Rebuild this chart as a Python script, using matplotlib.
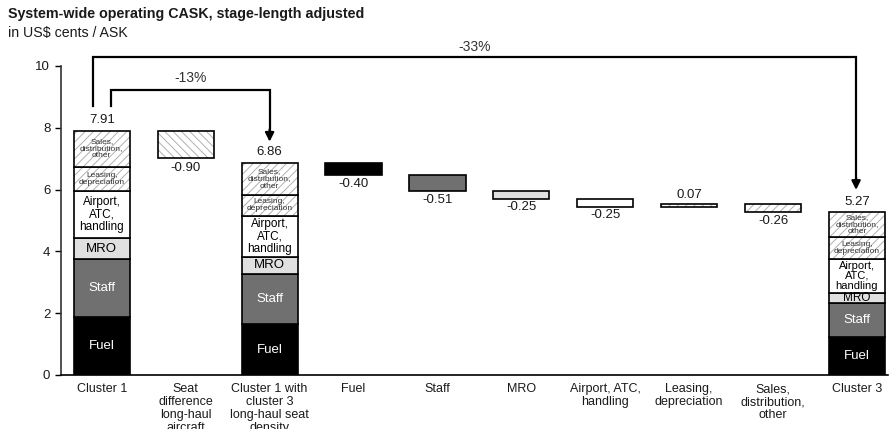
# Waterfall of system-wide operating CASK, cluster 1 vs cluster 3
import numpy as np
import matplotlib
matplotlib.use('Agg')
import matplotlib.pyplot as plt

plt.rcParams['font.family'] = ['Liberation Sans', 'DejaVu Sans']
plt.rcParams['hatch.linewidth'] = 0.7

# data (US$ cents / ASK)
categories = ['Cluster 1', 'Seat\ndifference\nlong-haul\naircraft',
              'Cluster 1 with\ncluster 3\nlong-haul seat\ndensity',
              'Fuel', 'Staff', 'MRO', 'Airport, ATC,\nhandling',
              'Leasing,\ndepreciation', 'Sales,\ndistribution,\nother',
              'Cluster 3']
segments     = ['Fuel', 'Staff', 'MRO', 'Airport,\nATC,\nhandling',
                'Leasing,\ndepreciation', 'Sales,\ndistribution,\nother']
cluster1     = [1.89, 1.86, 0.67, 1.53, 0.79, 1.17]
cluster1_adj = [1.64, 1.62, 0.57, 1.32, 0.68, 1.03]
cluster3     = [1.24, 1.10, 0.32, 1.09, 0.71, 0.81]
totals       = [7.91, 6.86, 5.27]
seat_diff    = -0.90
deltas       = [-0.40, -0.51, -0.25, -0.25, 0.07, -0.26]
pct_inner    = '-13%'
pct_outer    = '-33%'

# styles
seg_colors  = ['black', '#707070', '#e0e0e0', 'white', 'white', 'white']
seg_hatches = [None, None, None, None, '////', '////']
seg_txtcol  = ['white', 'white', 'black', 'black', '#333333', '#333333']
width = 0.67
hatch_col = '#b0b0b0'
txt_col = '#1a1a1a'

fig = plt.figure(figsize=(8.9, 4.29), dpi=100)
ax = fig.add_axes([0.0682, 0.1259, 0.9295, 0.7203])


def draw_bar(x, bottom, height, color, hatch):
    if hatch:
        ax.bar(x, height, width, bottom=bottom, color='white',
               edgecolor=hatch_col, hatch=hatch, linewidth=0)
        ax.bar(x, height, width, bottom=bottom, color='none',
               edgecolor='black', linewidth=1.2)
    else:
        ax.bar(x, height, width, bottom=bottom, color=color,
               edgecolor='black', linewidth=1.2)


def draw_stack(x, values, sizes):
    bottom = 0
    for i, v in enumerate(values):
        draw_bar(x, bottom, v, seg_colors[i], seg_hatches[i])
        ax.text(x, bottom + v/2, segments[i], ha='center', va='center',
                fontsize=sizes[i], color=seg_txtcol[i], linespacing=1.05)
        bottom += v


draw_stack(0, cluster1, [9.5, 9.5, 9.5, 8.5, 6, 6])
draw_stack(2, cluster1_adj, [9.5, 9.5, 9.5, 8.5, 6, 6])
draw_stack(9, cluster3, [9.5, 9.5, 8.5, 8, 6, 6])
for x, t in zip([0, 2, 9], totals):
    ax.text(x, t + 0.15, '%.2f' % t, ha='center', va='bottom',
            fontsize=9.5, color=txt_col)

# seat difference bar
draw_bar(1, totals[0] + seat_diff, -seat_diff, None, '\\\\\\\\')
ax.text(1, totals[0] + seat_diff - 0.12, '%.2f' % seat_diff, ha='center',
        va='top', fontsize=9.5, color=txt_col)

# cost item bars
level = totals[1]
for i, d in enumerate(deltas):
    x = 3 + i
    draw_bar(x, min(level, level + d), abs(d), seg_colors[i], seg_hatches[i])
    if d < 0:
        ax.text(x, level + d - 0.08, '%.2f' % d, ha='center', va='top',
                fontsize=9.5, color=txt_col)
    else:
        ax.text(x, level + d + 0.12, '%.2f' % d, ha='center', va='bottom',
                fontsize=9.5, color=txt_col)
    level += d


# percentage brackets
def bracket(x0, y0, x1, ytop, ytip, label, ylab):
    ax.plot([x0, x0, x1, x1], [y0, ytop, ytop, ytip + 0.2], color='black',
            lw=1.6, clip_on=False, solid_joinstyle='miter')
    ax.annotate('', xy=(x1, ytip), xytext=(x1, ytip + 0.4),
                arrowprops=dict(arrowstyle='-|>', color='black', lw=1.6,
                                mutation_scale=13, shrinkA=0, shrinkB=0),
                annotation_clip=False)
    ax.text((x0 + x1)/2, ylab, label, ha='center', va='center',
            fontsize=10, color='#333333', clip_on=False)


bracket(-0.11, 8.72, 8.99, 10.28, 5.99, pct_outer, 10.62)
bracket(0.11, 8.72, 2.0, 9.22, 7.55, pct_inner, 9.61)

# axes styling
ax.set_xlim(-0.49, 9.37)
ax.set_ylim(0, 10)
ax.set_yticks([0, 2, 4, 6, 8, 10])
ax.set_xticks(range(len(categories)))
ax.set_xticklabels(categories, fontsize=9, color=txt_col, linespacing=1.1)
ax.tick_params(axis='x', length=0, pad=6)
ax.tick_params(axis='y', direction='out', length=4, labelsize=9.5,
               labelcolor=txt_col, width=1)
for s in ['top', 'right']:
    ax.spines[s].set_visible(False)
ax.spines['left'].set_linewidth(1.2)
ax.spines['bottom'].set_linewidth(1.2)
ax.spines['left'].set_color('#333333')

fig.text(0.009, 0.967, 'System-wide operating CASK, stage-length adjusted',
         fontsize=10.3, fontweight='bold', color=txt_col, va='center')
fig.text(0.009, 0.923, 'in US$ cents / ASK', fontsize=10.2, color=txt_col,
         va='center')

fig.savefig('out.png', dpi=100)
